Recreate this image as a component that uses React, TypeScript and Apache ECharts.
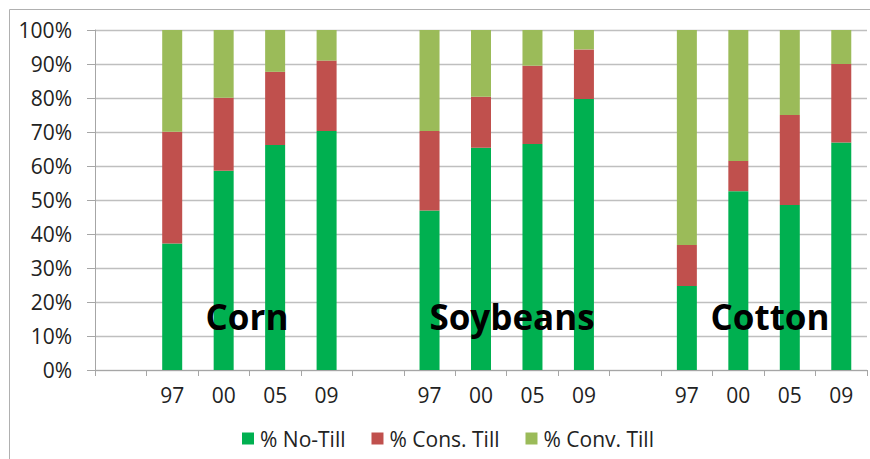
import React, { useEffect, useRef } from "react";
import * as echarts from "echarts";

const categories = ["", "97", "00", "05", "09", "", "97", "00", "05", "09", "", "97", "00", "05", "09"];
const noTill = [null, 37.2, 58.6, 66.2, 70.3, null, 46.9, 65.4, 66.5, 79.7, null, 24.7, 52.6, 48.5, 66.9];
const consTill = [null, 32.9, 21.5, 21.5, 20.7, null, 23.4, 15.0, 23.0, 14.6, null, 12.1, 8.9, 26.5, 23.1];
const convTill = [null, 29.9, 19.9, 12.3, 9.0, null, 29.7, 19.6, 10.5, 5.7, null, 63.2, 38.5, 25.0, 10.0];
const seriesNames = ["% No-Till", "% Cons. Till", "% Conv. Till"];
const cropLabels = ["Corn", "Soybeans", "Cotton"];
const yTicks = { min: 0, max: 100, interval: 10 };

const FONT = "'Open Sans', 'Noto Sans', sans-serif";

export default function App() {
  const ref = useRef<HTMLDivElement>(null);
  useEffect(() => {
    if (!ref.current) return;
    const chart = echarts.init(ref.current, undefined, { renderer: "svg" });
    const colors = ["#00B050", "#C0504D", "#9BBB59"];
    const data = [noTill, consTill, convTill];
    const cropX = [247, 512, 770];
    chart.setOption({
      animation: false,
      textStyle: { fontFamily: FONT },
      grid: { left: 95, right: 3, top: 30, bottom: 89, containLabel: false },
      legend: {
        data: seriesNames,
        left: 237,
        top: 423,
        itemWidth: 12,
        itemHeight: 12,
        itemGap: 26,
        icon: "rect",
        textStyle: { fontSize: 21, color: "#222", fontFamily: FONT, padding: [0, 0, 0, 1] },
      },
      xAxis: {
        type: "category",
        data: categories,
        axisLine: { show: true, lineStyle: { color: "#a6a6a6", width: 1 } },
        axisTick: { show: true, length: 6, interval: 0, lineStyle: { color: "#a6a6a6" } },
        axisLabel: { fontSize: 21, color: "#222", margin: 14, interval: 0, fontFamily: FONT },
      },
      yAxis: {
        type: "value",
        min: yTicks.min,
        max: yTicks.max,
        interval: yTicks.interval,
        axisLine: { show: true, lineStyle: { color: "#a6a6a6", width: 1 } },
        axisTick: { show: true, length: 8, lineStyle: { color: "#a6a6a6" } },
        splitLine: { show: true, lineStyle: { color: "#bfbfbf", width: 1.3 } },
        axisLabel: { fontSize: 21, color: "#222", margin: 23, formatter: "{value}%", fontFamily: FONT },
      },
      series: seriesNames.map((name, i) => ({
        name,
        type: "bar",
        stack: "total",
        barWidth: 20,
        data: data[i],
        itemStyle: { color: colors[i] },
      })),
      graphic: [
        {
          type: "line",
          shape: { x1: 9.5, y1: 9.5, x2: 9.5, y2: 459 },
          style: { stroke: "#b0b0b0", lineWidth: 1 },
          silent: true,
        },
        {
          type: "line",
          shape: { x1: 9.5, y1: 9.5, x2: 870, y2: 9.5 },
          style: { stroke: "#b0b0b0", lineWidth: 1 },
          silent: true,
        },
        ...cropLabels.map((t, i) => ({
          type: "text",
          x: cropX[i],
          y: 316,
          z: 100,
          style: {
            text: t,
            fontSize: 35,
            fontWeight: "bold",
            fontFamily: FONT,
            fill: "#000",
            textAlign: "center",
            textVerticalAlign: "middle",
          },
        })),
      ],
    });
    return () => chart.dispose();
  }, []);
  return (
    <div
      ref={ref}
      style={{ position: "fixed", left: 0, top: 0, width: 870, height: 459, background: "#fff" }}
    />
  );
}
